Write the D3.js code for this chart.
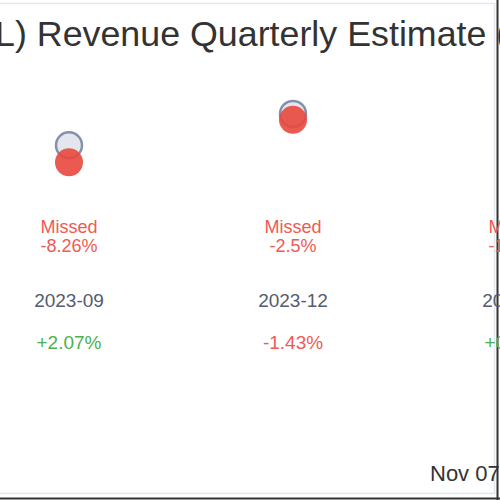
<!DOCTYPE html>
<meta charset="utf-8">

<!-- Load d3.js -->
<script src="https://d3js.org/d3.v7.min.js"></script>

<style>
  body { margin: 0; background: #fff; }
  text { font-family: "Liberation Sans", Arial, sans-serif; }
</style>

<!-- Create a div where the graph will take place -->
<div id="my_dataviz"></div>

<script>

// quarters and values (revenue, millions)
var quarters  = ["2023-09", "2023-12", "2024-03"];
var estimates = [1250, 1440, 1390];
var actuals   = [1146.75, 1404, 1370];
var results   = ["Missed", "Missed", "Missed"];
var surprises = ["-8.26%", "-2.5%", "-1.44%"];
var moves     = ["+2.07%", "-1.43%", "+0.85%"];

var width = 500, height = 500;

var svg = d3.select("#my_dataviz")
  .append("svg")
    .attr("width", width)
    .attr("height", height);

// frame of the card
svg.append("line").attr("x1", 0).attr("x2", 494).attr("y1", 3.5).attr("y2", 3.5)
  .style("stroke", "#e3e6ea").style("stroke-width", 1.5);
svg.append("line").attr("x1", 0).attr("x2", 494).attr("y1", 493.5).attr("y2", 493.5)
  .style("stroke", "#e3e6ea").style("stroke-width", 1.5);
svg.append("line").attr("x1", 494.5).attr("x2", 494.5).attr("y1", 3).attr("y2", 494)
  .style("stroke", "#e3e6ea").style("stroke-width", 1.5);
svg.append("line").attr("x1", 497.5).attr("x2", 497.5).attr("y1", 0).attr("y2", 500)
  .style("stroke", "#333").style("stroke-width", 2);
svg.append("line").attr("x1", 0).attr("x2", 500).attr("y1", 498.5).attr("y2", 498.5)
  .style("stroke", "#333").style("stroke-width", 2);

// title
svg.append("text")
  .attr("x", -5)
  .attr("y", 46)
  .style("font-size", "35.8px")
  .style("fill", "#333")
  .text("L) Revenue Quarterly Estimate (");

// scales
var x = d3.scalePoint()
  .domain(quarters)
  .range([69, 517]);

var y = d3.scaleLinear()
  .domain([1100, 1500])
  .range([170, 104]);

var g = svg.append("g");

// estimate dots
g.selectAll("circle.est")
  .data(quarters)
  .enter()
  .append("circle")
    .attr("class", "est")
    .attr("cx", function (d) { return x(d); })
    .attr("cy", function (d, i) { return y(estimates[i]); })
    .attr("r", 13)
    .style("fill", "#e3e7ed")
    .style("stroke", "#8590ad")
    .style("stroke-width", 2.5);

// actual dots
g.selectAll("circle.act")
  .data(quarters)
  .enter()
  .append("circle")
    .attr("class", "act")
    .attr("cx", function (d) { return x(d); })
    .attr("cy", function (d, i) { return y(actuals[i]); })
    .attr("r", 14)
    .style("fill", "#e8483d")
    .style("opacity", 0.9);

// result + surprise labels
function row(values, yy, color, size) {
  g.selectAll(null)
    .data(quarters)
    .enter()
    .append("text")
      .attr("x", function (d) { return x(d); })
      .attr("y", yy)
      .attr("text-anchor", "middle")
      .style("font-size", size)
      .style("fill", typeof color === "function" ? function (d, i) { return color(i); } : color)
      .text(function (d, i) { return values[i]; });
}

row(results, 233, "#ef5b53", "18px");
row(surprises, 252, "#ef5b53", "18px");
row(quarters, 307, "#555b70", "19px");
row(moves, 349, function (i) { return moves[i][0] === "+" ? "#4cb050" : "#ef5b53"; }, "19px");

// date stamp
svg.append("text")
  .attr("x", 430)
  .attr("y", 481)
  .style("font-size", "22px")
  .style("fill", "#333")
  .text("Nov 07, 2024");

</script>
